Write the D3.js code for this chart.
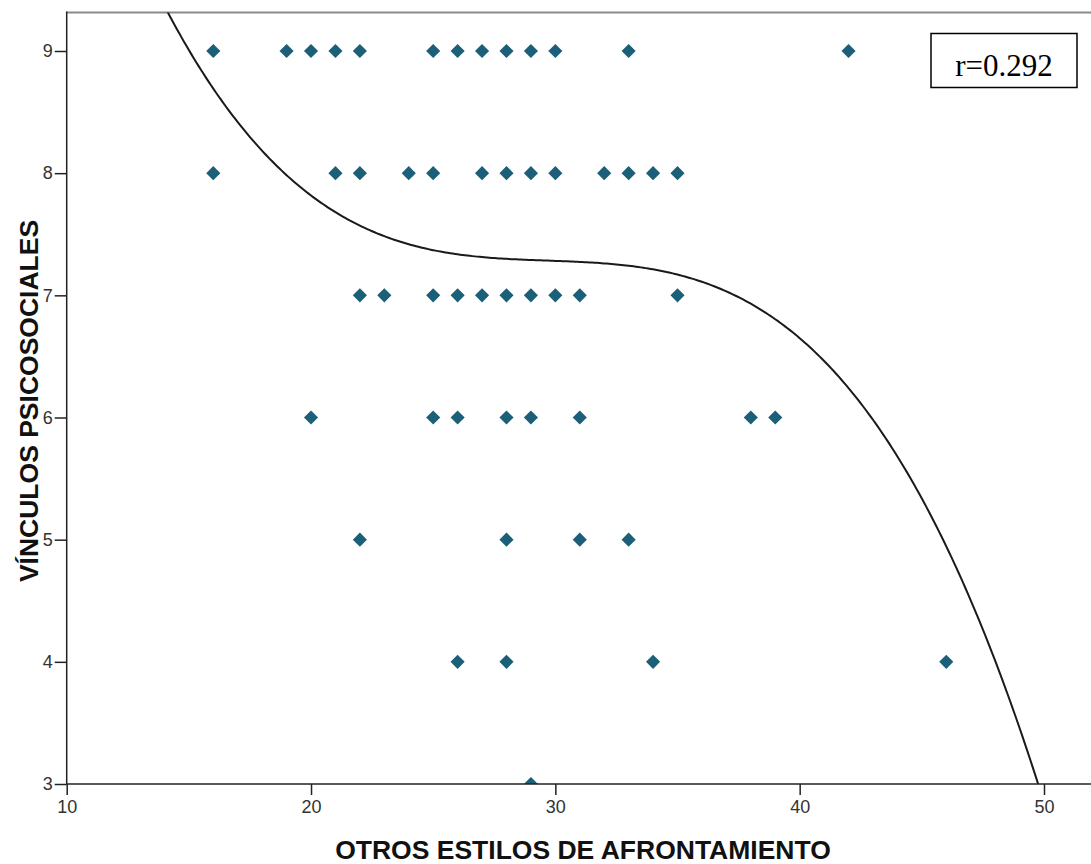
<!DOCTYPE html>
<html>
<head>
<meta charset="utf-8">
<script src="https://cdn.jsdelivr.net/npm/d3@7"></script>
<style>
  html, body { margin: 0; padding: 0; background: #fff; }
  svg { display: block; }
</style>
</head>
<body>
<svg id="chart" width="1091" height="864"></svg>
<script>
// Scatter of VÍNCULOS PSICOSOCIALES against OTROS ESTILOS DE AFRONTAMIENTO
const pointsY9 = [16, 19, 20, 21, 22, 25, 26, 27, 28, 29, 30, 33, 42];
const pointsY8 = [16, 21, 22, 24, 25, 27, 28, 29, 30, 32, 33, 34, 35];
const pointsY7 = [22, 23, 25, 26, 27, 28, 29, 30, 31, 35];
const pointsY6 = [20, 25, 26, 28, 29, 31, 38, 39];
const pointsY5 = [22, 28, 31, 33];
const pointsY4 = [26, 28, 34, 46];
const pointsY3 = [29];
const rowLevels = [9, 8, 7, 6, 5, 4, 3];

const xTicks = [10, 20, 30, 40, 50];
const yTicks = [3, 4, 5, 6, 7, 8, 9];

// Cubic fit line: y = a + b·u + c·u² + d·u³ with u = x − 30
const fitCenter = 30;
const fitCoef = [7.282, -0.0072, -0.000487, -0.0005119];
const fitRange = [13.5, 50.5];

const corrLabel = "r=0.292";
const xTitle = "OTROS ESTILOS DE AFRONTAMIENTO";
const yTitle = "VÍNCULOS PSICOSOCIALES";

const rows = [pointsY9, pointsY8, pointsY7, pointsY6, pointsY5, pointsY4, pointsY3];
const points = [];
rows.forEach((xs, i) => xs.forEach(v => points.push({ x: v, y: rowLevels[i] })));

const svg = d3.select("#chart");
const plot = { left: 66.7, right: 1091, top: 12.5, bottom: 784 };

const x = d3.scaleLinear().domain([10, 50]).range([66.7, 1044]);
const y = d3.scaleLinear().domain([3, 9]).range([784, 51]);

// Clip region for the fit line and markers
svg.append("defs").append("clipPath").attr("id", "plotClip")
  .append("rect")
  .attr("x", plot.left).attr("y", plot.top)
  .attr("width", plot.right - plot.left).attr("height", plot.bottom - plot.top);

// Top frame line (grey)
svg.append("line")
  .attr("x1", plot.left).attr("x2", plot.right)
  .attr("y1", plot.top).attr("y2", plot.top)
  .attr("stroke", "#8a8a8a").attr("stroke-width", 2);

// Fit line
const fit = v => {
  const u = v - fitCenter;
  return fitCoef[0] + fitCoef[1] * u + fitCoef[2] * u * u + fitCoef[3] * u * u * u;
};
const fitSamples = d3.range(fitRange[0], fitRange[1] + 0.001, 0.1).map(v => [v, fit(v)]);
svg.append("path")
  .datum(fitSamples)
  .attr("clip-path", "url(#plotClip)")
  .attr("fill", "none")
  .attr("stroke", "#1a1a1a")
  .attr("stroke-width", 2)
  .attr("d", d3.line().x(d => x(d[0])).y(d => y(d[1])));

// Diamond markers
const diamond = d3.symbol(d3.symbolSquare, 100);
svg.append("g").attr("clip-path", "url(#plotClip)")
  .selectAll("path")
  .data(points)
  .join("path")
  .attr("d", diamond)
  .attr("transform", d => `translate(${x(d.x)},${y(d.y)}) rotate(45)`)
  .attr("fill", "#1c5f78");

// X axis
const xAxis = d3.axisBottom(x).tickValues(xTicks).tickSize(11).tickPadding(5).tickFormat(d3.format("d"));
const gx = svg.append("g").attr("transform", `translate(0,${plot.bottom})`).call(xAxis);
gx.select(".domain").remove();
gx.selectAll(".tick line").attr("stroke", "#222").attr("stroke-width", 1.5);
gx.selectAll(".tick text")
  .attr("font-family", "Arial, 'Liberation Sans', sans-serif")
  .attr("font-size", 18).attr("fill", "#333");
svg.append("line")
  .attr("x1", plot.left).attr("x2", plot.right)
  .attr("y1", plot.bottom).attr("y2", plot.bottom)
  .attr("stroke", "#222").attr("stroke-width", 1.5);

// Y axis
const yAxis = d3.axisLeft(y).tickValues(yTicks).tickSize(12).tickPadding(2).tickFormat(d3.format("d"));
const gy = svg.append("g").attr("transform", `translate(${plot.left},0)`).call(yAxis);
gy.select(".domain").remove();
gy.selectAll(".tick line").attr("stroke", "#222").attr("stroke-width", 1.5);
gy.selectAll(".tick text")
  .attr("font-family", "Arial, 'Liberation Sans', sans-serif")
  .attr("font-size", 18).attr("fill", "#333");
svg.append("line")
  .attr("x1", plot.left).attr("x2", plot.left)
  .attr("y1", plot.top - 1).attr("y2", plot.bottom)
  .attr("stroke", "#222").attr("stroke-width", 1.5);

// Correlation box
svg.append("rect")
  .attr("x", 931).attr("y", 33.5).attr("width", 146).attr("height", 54)
  .attr("fill", "#fff").attr("stroke", "#000").attr("stroke-width", 1.5);
svg.append("text")
  .attr("x", 1004).attr("y", 76)
  .attr("text-anchor", "middle")
  .attr("font-family", "'Times New Roman', 'Liberation Serif', serif")
  .attr("font-size", 31).attr("fill", "#000")
  .text(corrLabel);

// Axis titles
svg.append("text")
  .attr("x", 583).attr("y", 859)
  .attr("text-anchor", "middle")
  .attr("font-family", "Arial, 'Liberation Sans', sans-serif")
  .attr("font-weight", "bold").attr("font-size", 26.5).attr("fill", "#111")
  .text(xTitle);
svg.append("text")
  .attr("transform", "translate(38,401) rotate(-90)")
  .attr("text-anchor", "middle")
  .attr("font-family", "Arial, 'Liberation Sans', sans-serif")
  .attr("font-weight", "bold").attr("font-size", 26.5).attr("fill", "#111")
  .text(yTitle);
</script>
</body>
</html>
